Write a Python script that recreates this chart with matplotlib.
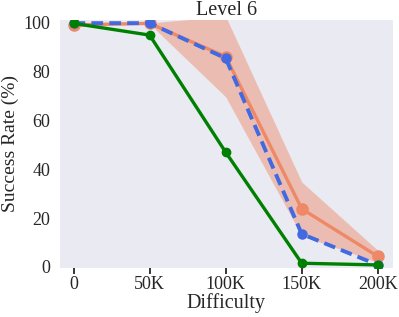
import matplotlib.pyplot as plt
import numpy as np

difficulty_labels = ["0", "50K", "100K", "150K", "200K"]

green_rate = [99.8, 95.0, 47.0, 1.5, 0.8]
orange_mean = [99.2, 99.8, 86.2, 23.8, 4.3]
orange_std = [0.8, 0.2, 16.5, 11.0, 2.5]
blue_rate = [99.9, 99.9, 85.5, 13.5, 0.8]


def main() -> None:
    plt.rcParams["font.family"] = ["Liberation Serif", "DejaVu Serif"]

    fig = plt.figure(figsize=(3.99, 3.17), dpi=100)
    ax = fig.add_axes([0.150, 0.155, 0.835, 0.782])
    ax.set_facecolor("#EAEAF2")
    for spine in ax.spines.values():
        spine.set_visible(False)

    x = np.arange(len(difficulty_labels))
    mean = np.array(orange_mean)
    std = np.array(orange_std)

    ax.fill_between(x, mean - std, mean + std, color="#EE8866", alpha=0.45,
                    linewidth=0, zorder=1)
    ax.plot(x, orange_mean, color="#EE8866", linewidth=2.4, marker="o",
            markersize=8, zorder=2)
    ax.plot(x, blue_rate, color="#4169E1", linewidth=2.8, linestyle=(0, (3, 1.6)),
            marker="o", markersize=6.5, zorder=3)
    ax.plot(x, green_rate, color="green", linewidth=2.4, marker="o",
            markersize=6, zorder=4)

    ax.set_xticks(x)
    ax.set_xticklabels(difficulty_labels)
    ax.set_xlim(-0.18, 4.2)
    ax.set_ylim(-0.4, 101.2)
    ax.set_yticks([0, 20, 40, 60, 80, 100])
    ax.tick_params(axis="x", length=4, width=1.3, color="#262626", labelsize=13,
                   pad=2, labelcolor="#262626")
    ax.tick_params(axis="y", length=0, labelsize=13, pad=7, labelcolor="#262626")

    ax.set_xlabel("Difficulty", fontsize=14.5, color="#262626", labelpad=0)
    ax.set_ylabel("Success Rate (%)", fontsize=14, color="#262626", labelpad=3)
    ax.set_title("Level 6", fontsize=14.5, color="#262626", pad=2)

    fig.savefig("out.png", dpi=100)


if __name__ == "__main__":
    main()
